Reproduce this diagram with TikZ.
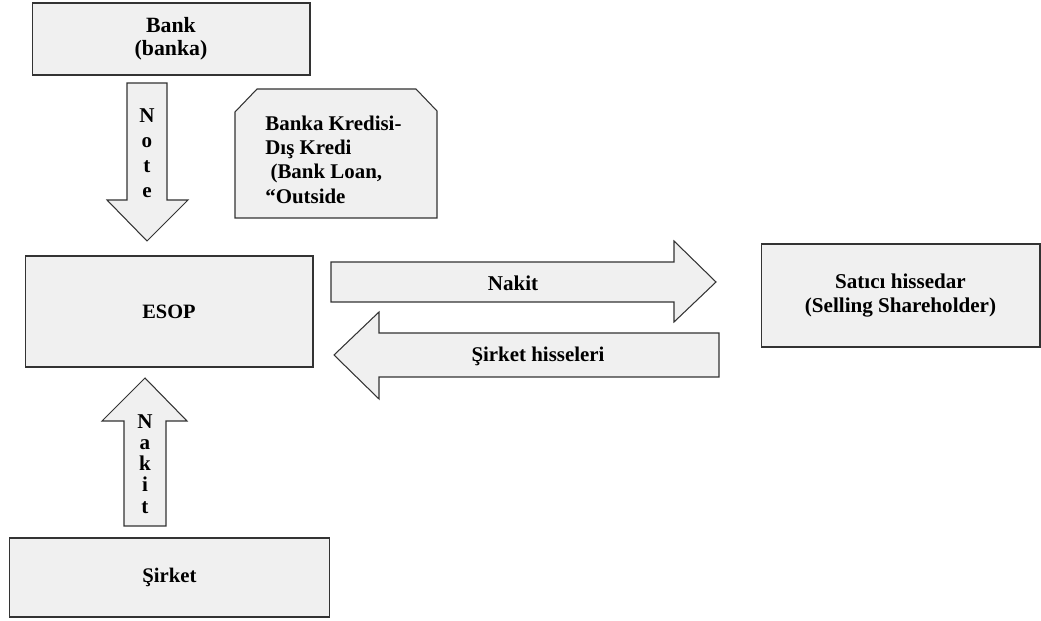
\documentclass[tikz,border=0pt]{standalone}
\usepackage{fontspec}
\setmainfont{Liberation Serif}
\definecolor{boxgray}{HTML}{F0F0F0}
\begin{document}
\begin{tikzpicture}[x=0.02cm,y=-0.02cm,
  box/.style={draw=black!80,fill=boxgray,line width=0.6pt},
  every node/.style={font=\bfseries\fontsize{12}{13.5}\selectfont,
  align=center,inner sep=0pt}]
\useasboundingbox (0,0) rectangle (1041,621);
\node[box,minimum width=5.56cm,minimum height=1.44cm,
  font=\bfseries\fontsize{12.4}{13}\selectfont] (bank) at (171,39)
  {Bank\\(banka)};
\node[box,minimum width=5.76cm,minimum height=2.22cm,
  font=\bfseries\fontsize{11.6}{13}\selectfont] (esop) at (169,311.5) {ESOP};
\node[box,minimum width=5.58cm,minimum height=2.06cm,
  font=\bfseries\fontsize{12}{14.2}\selectfont] (satici) at (900.5,295.5)
  {Satıcı hissedar\\(Selling Shareholder)};
\node[box,minimum width=6.42cm,minimum height=1.58cm,
  font=\bfseries\fontsize{11.8}{13}\selectfont] (sirket) at (169.5,577.5)
  {Şirket};
\draw[box] (235,112) -- (257,89) -- (416,89) -- (437,111) -- (437,218)
  -- (235,218) -- cycle;
\node[anchor=north west,align=left,font=\bfseries\fontsize{11.9}{13.8}\selectfont]
  (kredi) at (265,115.5) {Banka Kredisi-\\Dış Kredi\\\ (Bank Loan,\\“Outside};
\draw[box] (127,83) -- (167,83) -- (167,200) -- (188,200) -- (147,241)
  -- (107,200) -- (127,200) -- cycle;
\node[font=\bfseries\fontsize{12}{14.2}\selectfont] (note) at (147,153)
  {N\\o\\t\\e};
\draw[box] (124,526) -- (166,526) -- (166,421) -- (187,421) -- (145,378)
  -- (102,421) -- (124,421) -- cycle;
\node[font=\bfseries\fontsize{12}{12.05}\selectfont] (nakitup) at (145,464)
  {N\\a\\k\\i\\t};
\draw[box] (331,262) -- (674,262) -- (674,241) -- (716,282) -- (674,322)
  -- (674,302) -- (331,302) -- cycle;
\node[font=\bfseries\fontsize{12}{14}\selectfont] (nakit) at (513,283) {Nakit};
\draw[box] (719,333) -- (379,333) -- (379,312) -- (334,355) -- (379,399)
  -- (379,377) -- (719,377) -- cycle;
\node[font=\bfseries\fontsize{11.9}{14}\selectfont] (hisse) at (538,356)
  {Şirket hisseleri};
\end{tikzpicture}
\end{document}
